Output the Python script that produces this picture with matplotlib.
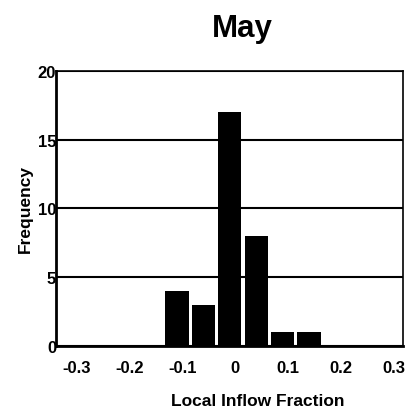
import matplotlib.pyplot as plt

# histogram of local inflow fraction for May
bin_centers = [-0.11, -0.06, -0.01, 0.04, 0.09, 0.14]
counts = [4, 3, 17, 8, 1, 1]
x_ticks = [-0.3, -0.2, -0.1, 0, 0.1, 0.2, 0.3]
x_tick_labels = ["-0.3", "-0.2", "-0.1", "0", "0.1", "0.2", "0.3"]
y_ticks = [0, 5, 10, 15, 20]

plt.rcParams["font.family"] = ["Liberation Sans", "DejaVu Sans"]

fig = plt.figure(figsize=(4.06, 4.14), dpi=100)
ax = fig.add_axes([0.138, 0.162, 0.855, 0.664])

ax.bar(bin_centers, counts, width=0.044, color="black", zorder=3)

ax.set_xlim(-0.339, 0.318)
ax.set_ylim(0, 20)
ax.set_yticks(y_ticks)
ax.set_yticklabels([str(v) for v in y_ticks], fontsize=12, fontweight="heavy")
ax.set_xticks(x_ticks)
ax.set_xticklabels(x_tick_labels, fontsize=12, fontweight="heavy")
ax.tick_params(axis="x", length=0, pad=10)
ax.tick_params(axis="y", length=0, pad=0)

ax.yaxis.grid(True, color="black", linewidth=1.5, zorder=1)
for side in ["left", "bottom"]:
    ax.spines[side].set_linewidth(2)
for side in ["top", "right"]:
    ax.spines[side].set_linewidth(1.2)

ax.set_xlabel("Local Inflow Fraction", fontsize=12.5, fontweight="bold")
ax.xaxis.set_label_coords(0.58, -0.17)
ax.set_ylabel("Frequency", fontsize=12.5, fontweight="bold", labelpad=3)
fig.suptitle("May", fontsize=22.5, fontweight="heavy", x=0.596, y=0.965)

fig.savefig("out.png", dpi=100)
